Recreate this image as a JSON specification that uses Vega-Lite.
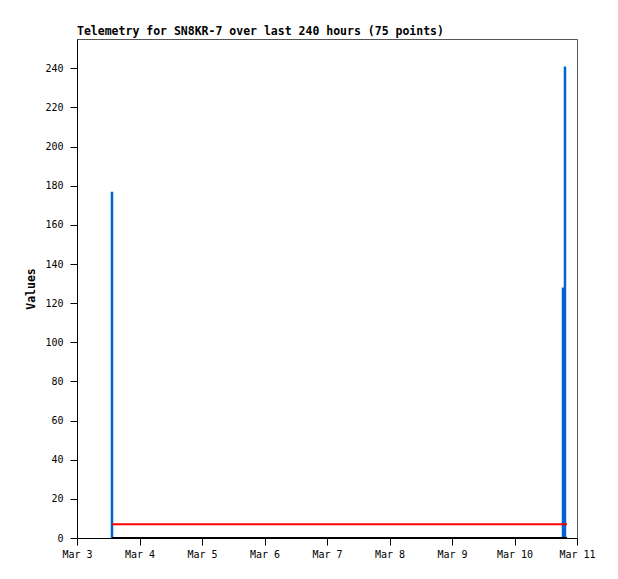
{
  "$schema": "https://vega.github.io/schema/vega-lite/v6.json",
  "width": 500,
  "height": 499,
  "autosize": {"type": "none"},
  "padding": {"left": 77, "top": 39, "right": 41, "bottom": 41},
  "background": "white",
  "title": {
    "text": "Telemetry for SN8KR-7 over last 240 hours (75 points)",
    "anchor": "start",
    "frame": "group",
    "font": "DejaVu Sans Mono",
    "fontSize": 11.5,
    "fontWeight": "bold",
    "color": "black",
    "baseline": "alphabetic",
    "offset": -7
  },
  "config": {
    "view": {"stroke": "#555555", "strokeWidth": 1},
    "axis": {
      "labelFont": "DejaVu Sans Mono",
      "labelFontSize": 10,
      "labelColor": "black",
      "titleFont": "DejaVu Sans Mono",
      "titleFontSize": 11.5,
      "titleFontWeight": "bold",
      "titleColor": "black",
      "domainColor": "black",
      "tickColor": "black",
      "tickSize": 7,
      "grid": false
    }
  },
  "data": {
    "values": [
      {"t": "2024-03-03T13:26:00Z", "v": 177},
      {"t": "2024-03-03T15:30:00Z", "v": 0},
      {"t": "2024-03-04T12:00:00Z", "v": 0},
      {"t": "2024-03-05T12:00:00Z", "v": 0},
      {"t": "2024-03-06T12:00:00Z", "v": 0},
      {"t": "2024-03-07T12:00:00Z", "v": 0},
      {"t": "2024-03-08T12:00:00Z", "v": 0},
      {"t": "2024-03-09T12:00:00Z", "v": 0},
      {"t": "2024-03-10T12:00:00Z", "v": 0},
      {"t": "2024-03-10T18:37:00Z", "v": 128},
      {"t": "2024-03-10T19:23:00Z", "v": 241},
      {"t": "2024-03-10T20:10:00Z", "v": 0}
    ]
  },
  "encoding": {
    "x": {
      "field": "t",
      "type": "temporal",
      "scale": {
        "type": "utc",
        "domain": [
          {"year": 2024, "month": 3, "date": 3, "utc": true},
          {"year": 2024, "month": 3, "date": 11, "utc": true}
        ]
      },
      "axis": {
        "title": null,
        "labelExpr": "utcFormat(datum.value, '%b %-d')",
        "values": [
          {"year": 2024, "month": 3, "date": 3, "utc": true},
          {"year": 2024, "month": 3, "date": 4, "utc": true},
          {"year": 2024, "month": 3, "date": 5, "utc": true},
          {"year": 2024, "month": 3, "date": 6, "utc": true},
          {"year": 2024, "month": 3, "date": 7, "utc": true},
          {"year": 2024, "month": 3, "date": 8, "utc": true},
          {"year": 2024, "month": 3, "date": 9, "utc": true},
          {"year": 2024, "month": 3, "date": 10, "utc": true},
          {"year": 2024, "month": 3, "date": 11, "utc": true}
        ],
        "labelPadding": 4,
        "labelFlush": false
      }
    }
  },
  "layer": [
    {
      "mark": {"type": "rule", "color": "#0066cc", "strokeWidth": 2.5},
      "encoding": {
        "y": {
          "field": "v",
          "type": "quantitative",
          "scale": {"domain": [0, 255], "nice": false},
          "axis": {
            "title": "Values",
            "values": [0, 20, 40, 60, 80, 100, 120, 140, 160, 180, 200, 220, 240],
            "titlePadding": 8,
            "labelPadding": 7
          }
        },
        "y2": {"datum": 0}
      }
    },
    {
      "mark": {"type": "rule", "color": "black", "strokeWidth": 2},
      "encoding": {
        "x": {"aggregate": "min", "field": "t", "type": "temporal"},
        "x2": {"aggregate": "max", "field": "t"},
        "y": {"datum": 0}
      }
    },
    {
      "mark": {"type": "rule", "color": "#ff0000", "strokeWidth": 2},
      "encoding": {
        "x": {"aggregate": "min", "field": "t", "type": "temporal"},
        "x2": {"aggregate": "max", "field": "t"},
        "y": {"datum": 7}
      }
    }
  ]
}
